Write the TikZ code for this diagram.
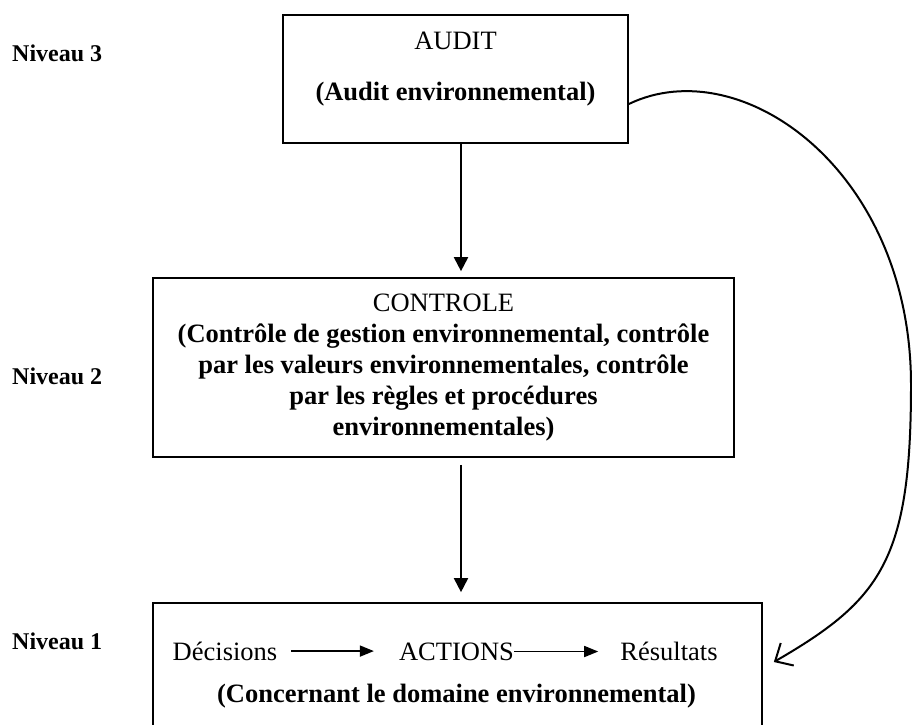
\documentclass[tikz,border=0pt]{standalone}
\usepackage{fontspec}
\setmainfont{Liberation Serif}
\usepackage{tikz}
\usetikzlibrary{arrows.meta,calc,positioning}
\tikzstyle{niv}=[
  x=1pt, y=-1pt, >={Triangle[length=14pt,width=14pt]}, font=\fontsize{26.5}{31}\selectfont
]
\tikzstyle{nivbox}=[
  line width=1.7pt, draw, inner sep=0pt, align=center
]
\tikzstyle{nivlabel}=[
  font=\fontsize{24}{28}\selectfont\bfseries, anchor=west, inner sep=0pt
]
\tikzstyle{nivtext}=[
  inner sep=0pt
]
\tikzstyle{rowtext}=[
  inner sep=0pt, anchor=base
]
\tikzstyle{nivedge}=[
  line width=1.9pt, ->
]
\tikzstyle{rowedge}=[
  line width=1.6pt, -{Triangle[length=14pt,width=11pt]}
]
\tikzstyle{loopedge}=[
  line width=2pt, -{Straight Barb[length=14pt,width=26pt]}
]
\begin{document}
\begin{tikzpicture}[niv]
    \useasboundingbox (0,0) rectangle (912,724);
    \clip (0,0) rectangle (912,724);

    % the three levels
    \node (niv3) [nivbox, minimum width=345pt, minimum height=128pt] at (455.5,79) {};
    \node (niv2) [nivbox, minimum width=581pt, minimum height=179pt] at (443.5,367.5) {
        CONTROLE\\
        \textbf{(Contrôle de gestion environnemental, contrôle}\\
        \textbf{par les valeurs environnementales, contrôle}\\
        \textbf{par les règles et procédures}\\
        \textbf{environnementales)}
    };
    \node (niv1) [nivbox, minimum width=609pt, minimum height=157pt] at (457.5,681.5) {};

    \node (lab3) [nivlabel] at (12,53) {Niveau 3};
    \node (lab2) [nivlabel] at (12,376) {Niveau 2};
    \node (lab1) [nivlabel] at (12,641) {Niveau 1};

    \node (audit) [nivtext] at ($(niv3.north) + (0,27)$) {AUDIT};
    \node (auditenv) [nivtext] at ($(niv3.north) + (0,80)$) {\textbf{(Audit environnemental)}};

    \node (decision) [rowtext] at ($(niv1.north) + (-232.5,58)$) {Décisions};
    \node (actions) [rowtext] at ($(niv1.north) + (-1,58)$) {ACTIONS};
    \node (resultats) [rowtext] at ($(niv1.north) + (211.5,58)$) {Résultats};
    \node (concern) [nivtext] at ($(niv1.north) + (-1,94)$) {\textbf{(Concernant le domaine environnemental)}};

    \coordinate (axis) at (461,0);
    \draw [nivedge, shorten >=6pt] (niv3.south -| axis) -- (niv2.north -| axis);
    \draw [nivedge, shorten <=7pt, shorten >=10pt] (niv2.south -| axis) -- (niv1.north -| axis);

    \draw [rowedge, shorten <=14pt, shorten >=25pt] (decision.east) -- (decision.east -| actions.west);
    \draw [rowedge, shorten >=22pt] (actions.east) -- (actions.east -| resultats.west);

    % feedback from the audit
    \coordinate (bend) at (911,385);
    \draw [loopedge] ([yshift=-25pt]niv3.east) .. controls +(112,-54) and +(0,-215) .. (bend)
        .. controls +(0,175) and +(107,-62) .. ([xshift=11pt,yshift=19.5pt]niv1.east);
\end{tikzpicture}
\end{document}
